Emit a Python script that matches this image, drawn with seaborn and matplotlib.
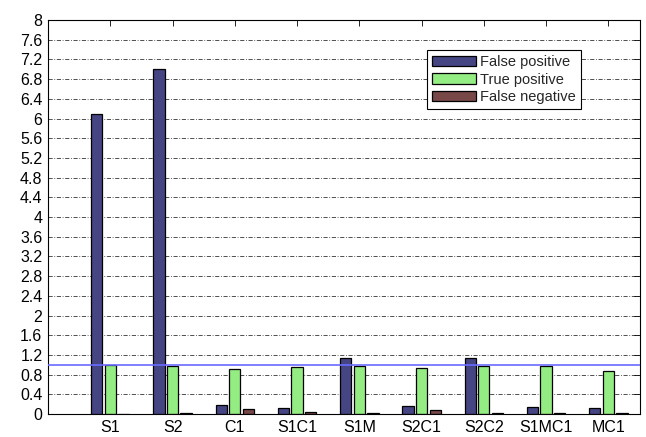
import numpy as np
import pandas as pd
import matplotlib
matplotlib.use("Agg")
import matplotlib.pyplot as plt
import seaborn as sns

categories = ['S1', 'S2', 'C1', 'S1C1', 'S1M', 'S2C1', 'S2C2', 'S1MC1', 'MC1']
false_pos = [6.10, 7.01, 0.18, 0.12, 1.14, 0.16, 1.14, 0.14, 0.12]
true_pos = [0.99, 0.97, 0.91, 0.95, 0.975, 0.93, 0.975, 0.97, 0.87]
false_neg = [0.01, 0.03, 0.095, 0.05, 0.02, 0.075, 0.03, 0.03, 0.02]
series_names = ['False positive', 'True positive', 'False negative']
series_colors = ['#3a3b8e', '#88ff70', '#804040']
ref_level = 1.0
y_ticks = np.round(np.arange(0, 8.01, 0.4), 1)

rows = []
for name, vals in zip(series_names, [false_pos, true_pos, false_neg]):
    for c, v in zip(categories, vals):
        rows.append({'category': c, 'series': name, 'value': v})
df = pd.DataFrame(rows)

sns.set_theme(style="white")
plt.rcParams['font.family'] = ['Liberation Sans', 'DejaVu Sans']

fig = plt.figure(figsize=(6.46, 4.37), dpi=100)
ax = fig.add_axes([48/646, 23/437, 591.5/646, 394/437])

sns.barplot(data=df, x='category', y='value', hue='series', order=categories,
            hue_order=series_names, palette=series_colors, width=0.655, gap=0.17,
            edgecolor='black', linewidth=0.9, errorbar=None, ax=ax, zorder=2)

ax.axhline(ref_level, color='#6b6bff', lw=1.2, zorder=3)

ax.set_xlim(-1, 8.5)
ax.set_ylim(0, 8)
ax.set_yticks(y_ticks)
ax.set_yticklabels([f'{t:g}' for t in y_ticks])
ax.set_xlabel('')
ax.set_ylabel('')
ax.yaxis.grid(True, linestyle=(0, (5, 2, 1, 2)), color='#333333', lw=0.6)
ax.xaxis.grid(False)
ax.set_axisbelow(True)
ax.tick_params(axis='both', direction='in', length=4, width=0.6, color='black',
               labelsize=11.5, labelcolor='black', top=True, right=True, pad=4)
for s in ax.spines.values():
    s.set_visible(True)
    s.set_color('black')
    s.set_linewidth(0.8)

leg = ax.legend(loc='upper right', bbox_to_anchor=(0.901, 0.924), fontsize=10.5,
                frameon=True, fancybox=False, edgecolor='black', framealpha=1,
                handlelength=3.0, handleheight=0.7, labelspacing=0.25,
                borderpad=0.35, handletextpad=0.3, borderaxespad=0)
leg.get_frame().set_linewidth(0.8)

fig.savefig('out.png', dpi=100)
